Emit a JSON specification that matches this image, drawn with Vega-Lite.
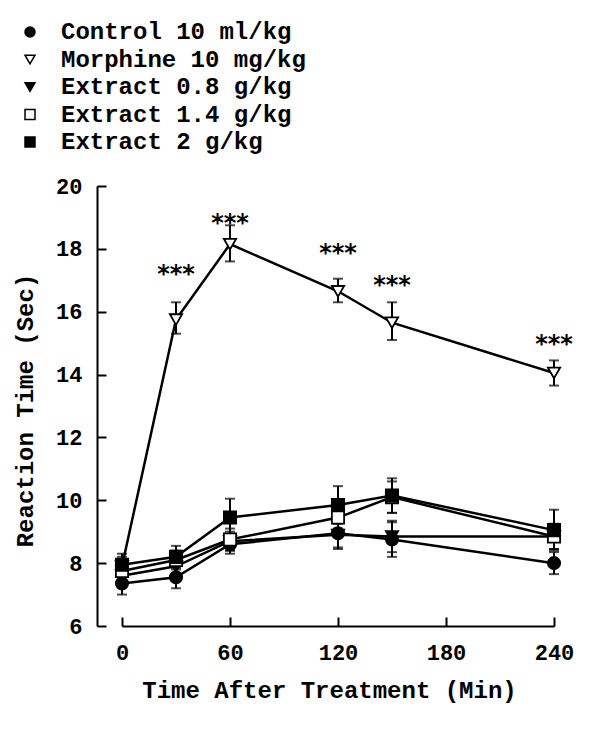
{
  "$schema": "https://vega.github.io/schema/vega-lite/v6.json",
  "width": 432,
  "height": 440,
  "autosize": {"type": "none"},
  "padding": {"left": 122, "top": 186, "right": 46, "bottom": 124},
  "background": "white",
  "config": {
    "view": {"stroke": null},
    "font": "Liberation Mono",
    "axis": {
      "grid": false,
      "domainColor": "black",
      "domainWidth": 2,
      "tickColor": "black",
      "tickWidth": 2,
      "tickSize": -9,
      "labelFont": "Liberation Mono",
      "labelFontWeight": "bold",
      "labelFontSize": 22,
      "labelColor": "black",
      "labelFlush": false,
      "titleFont": "Liberation Mono",
      "titleFontWeight": "bold",
      "titleColor": "black"
    },
    "legend": {
      "orient": "none",
      "legendX": -104,
      "legendY": -166,
      "padding": 0,
      "labelFont": "Liberation Mono",
      "labelFontWeight": "bold",
      "labelFontSize": 24,
      "labelColor": "black",
      "labelLimit": 500,
      "labelOffset": 19,
      "rowPadding": 3.5,
      "symbolSize": 100,
      "symbolStrokeColor": "black",
      "symbolStrokeWidth": 1.5
    }
  },
  "data": {
    "values": [
      {"series": "Control 10 ml/kg", "t": 0, "mean": 7.35, "lo": 7.0, "hi": 7.7},
      {"series": "Control 10 ml/kg", "t": 30, "mean": 7.55, "lo": 7.2, "hi": 7.9},
      {"series": "Control 10 ml/kg", "t": 60, "mean": 8.6, "lo": 8.3, "hi": 8.9},
      {"series": "Control 10 ml/kg", "t": 120, "mean": 8.95, "lo": 8.45, "hi": 9.45},
      {"series": "Control 10 ml/kg", "t": 150, "mean": 8.75, "lo": 8.2, "hi": 9.3},
      {"series": "Control 10 ml/kg", "t": 240, "mean": 8.0, "lo": 7.65, "hi": 8.35},
      {"series": "Morphine 10 mg/kg", "t": 0, "mean": 7.9, "lo": 7.6, "hi": 8.2},
      {"series": "Morphine 10 mg/kg", "t": 30, "mean": 15.75, "lo": 15.3, "hi": 16.3},
      {"series": "Morphine 10 mg/kg", "t": 60, "mean": 18.15, "lo": 17.6, "hi": 18.75},
      {"series": "Morphine 10 mg/kg", "t": 120, "mean": 16.65, "lo": 16.3, "hi": 17.05},
      {"series": "Morphine 10 mg/kg", "t": 150, "mean": 15.65, "lo": 15.1, "hi": 16.3},
      {"series": "Morphine 10 mg/kg", "t": 240, "mean": 14.05, "lo": 13.65, "hi": 14.45},
      {"series": "Extract 0.8 g/kg", "t": 0, "mean": 7.6, "lo": 7.3, "hi": 7.9},
      {"series": "Extract 0.8 g/kg", "t": 30, "mean": 7.9, "lo": 7.6, "hi": 8.2},
      {"series": "Extract 0.8 g/kg", "t": 60, "mean": 8.7, "lo": 8.4, "hi": 9.0},
      {"series": "Extract 0.8 g/kg", "t": 120, "mean": 8.9, "lo": 8.5, "hi": 9.3},
      {"series": "Extract 0.8 g/kg", "t": 150, "mean": 8.85, "lo": 8.35, "hi": 9.35},
      {"series": "Extract 0.8 g/kg", "t": 240, "mean": 8.85, "lo": 8.45, "hi": 9.25},
      {"series": "Extract 1.4 g/kg", "t": 0, "mean": 7.75, "lo": 7.4, "hi": 8.1},
      {"series": "Extract 1.4 g/kg", "t": 30, "mean": 8.1, "lo": 7.8, "hi": 8.4},
      {"series": "Extract 1.4 g/kg", "t": 60, "mean": 8.75, "lo": 8.4, "hi": 9.1},
      {"series": "Extract 1.4 g/kg", "t": 120, "mean": 9.45, "lo": 9.1, "hi": 9.8},
      {"series": "Extract 1.4 g/kg", "t": 150, "mean": 10.1, "lo": 9.6, "hi": 10.6},
      {"series": "Extract 1.4 g/kg", "t": 240, "mean": 8.85, "lo": 8.45, "hi": 9.25},
      {"series": "Extract 2 g/kg", "t": 0, "mean": 7.95, "lo": 7.6, "hi": 8.3},
      {"series": "Extract 2 g/kg", "t": 30, "mean": 8.2, "lo": 7.85, "hi": 8.55},
      {"series": "Extract 2 g/kg", "t": 60, "mean": 9.45, "lo": 8.85, "hi": 10.05},
      {"series": "Extract 2 g/kg", "t": 120, "mean": 9.85, "lo": 9.25, "hi": 10.45},
      {"series": "Extract 2 g/kg", "t": 150, "mean": 10.15, "lo": 9.6, "hi": 10.7},
      {"series": "Extract 2 g/kg", "t": 240, "mean": 9.05, "lo": 8.4, "hi": 9.7}
    ]
  },
  "encoding": {
    "x": {
      "field": "t",
      "type": "quantitative",
      "scale": {"domain": [0, 240], "nice": false, "zero": false},
      "axis": {
        "values": [0, 60, 120, 180, 240],
        "title": "Time After Treatment (Min)",
        "titleFontSize": 24,
        "labelPadding": 25,
        "titleBaseline": "middle",
        "titleAlign": "center",
        "titleX": 207,
        "titleY": 64
      }
    }
  },
  "layer": [
    {
      "mark": {"type": "line", "color": "black", "strokeWidth": 2.5},
      "encoding": {
        "y": {
          "field": "mean",
          "type": "quantitative",
          "scale": {"domain": [6, 20], "nice": false, "zero": false},
          "axis": {
            "values": [6, 8, 10, 12, 14, 16, 18, 20],
            "offset": 25,
            "title": "Reaction Time (Sec)",
            "titleFontSize": 24,
            "labelPadding": 24,
            "titleAngle": -90,
            "titleAlign": "center",
            "titleBaseline": "middle",
            "titleX": -72,
            "titleY": 224
          }
        },
        "detail": {"field": "series"}
      }
    },
    {
      "mark": {"type": "rule", "color": "black", "strokeWidth": 2},
      "encoding": {
        "y": {"field": "lo", "type": "quantitative"},
        "y2": {"field": "hi"}
      }
    },
    {
      "mark": {"type": "tick", "orient": "horizontal", "color": "black", "thickness": 2, "size": 10},
      "encoding": {"y": {"field": "lo", "type": "quantitative"}}
    },
    {
      "mark": {"type": "tick", "orient": "horizontal", "color": "black", "thickness": 2, "size": 10},
      "encoding": {"y": {"field": "hi", "type": "quantitative"}}
    },
    {
      "mark": {"type": "point", "filled": true, "strokeWidth": 1.8, "opacity": 1, "size": 150},
      "encoding": {
        "y": {"field": "mean", "type": "quantitative"},
        "shape": {
          "field": "series",
          "type": "nominal",
          "sort": null,
          "scale": {
            "domain": ["Control 10 ml/kg", "Morphine 10 mg/kg", "Extract 0.8 g/kg", "Extract 1.4 g/kg", "Extract 2 g/kg"],
            "range": ["circle", "triangle-down", "triangle-down", "square", "square"]
          },
          "legend": {"title": null}
        },
        "fill": {
          "field": "series",
          "type": "nominal",
          "sort": null,
          "scale": {
            "domain": ["Control 10 ml/kg", "Morphine 10 mg/kg", "Extract 0.8 g/kg", "Extract 1.4 g/kg", "Extract 2 g/kg"],
            "range": ["black", "white", "black", "white", "black"]
          },
          "legend": {"title": null}
        },
        "stroke": {
          "field": "series",
          "type": "nominal",
          "sort": null,
          "scale": {
            "domain": ["Control 10 ml/kg", "Morphine 10 mg/kg", "Extract 0.8 g/kg", "Extract 1.4 g/kg", "Extract 2 g/kg"],
            "range": ["black", "black", "black", "black", "black"]
          },
          "legend": {"title": null}
        }
      }
    },
    {
      "data": {
        "values": [
          {"t": 30, "y": 17.37, "label": "***"},
          {"t": 60, "y": 18.99, "label": "***"},
          {"t": 120, "y": 18.04, "label": "***"},
          {"t": 150, "y": 17.02, "label": "***"},
          {"t": 240, "y": 15.14, "label": "***"}
        ]
      },
      "mark": {"type": "text", "font": "DejaVu Sans", "fontWeight": "bold", "fontSize": 24, "dy": 6, "color": "black"},
      "encoding": {
        "y": {"field": "y", "type": "quantitative"},
        "text": {"field": "label"}
      }
    }
  ]
}
